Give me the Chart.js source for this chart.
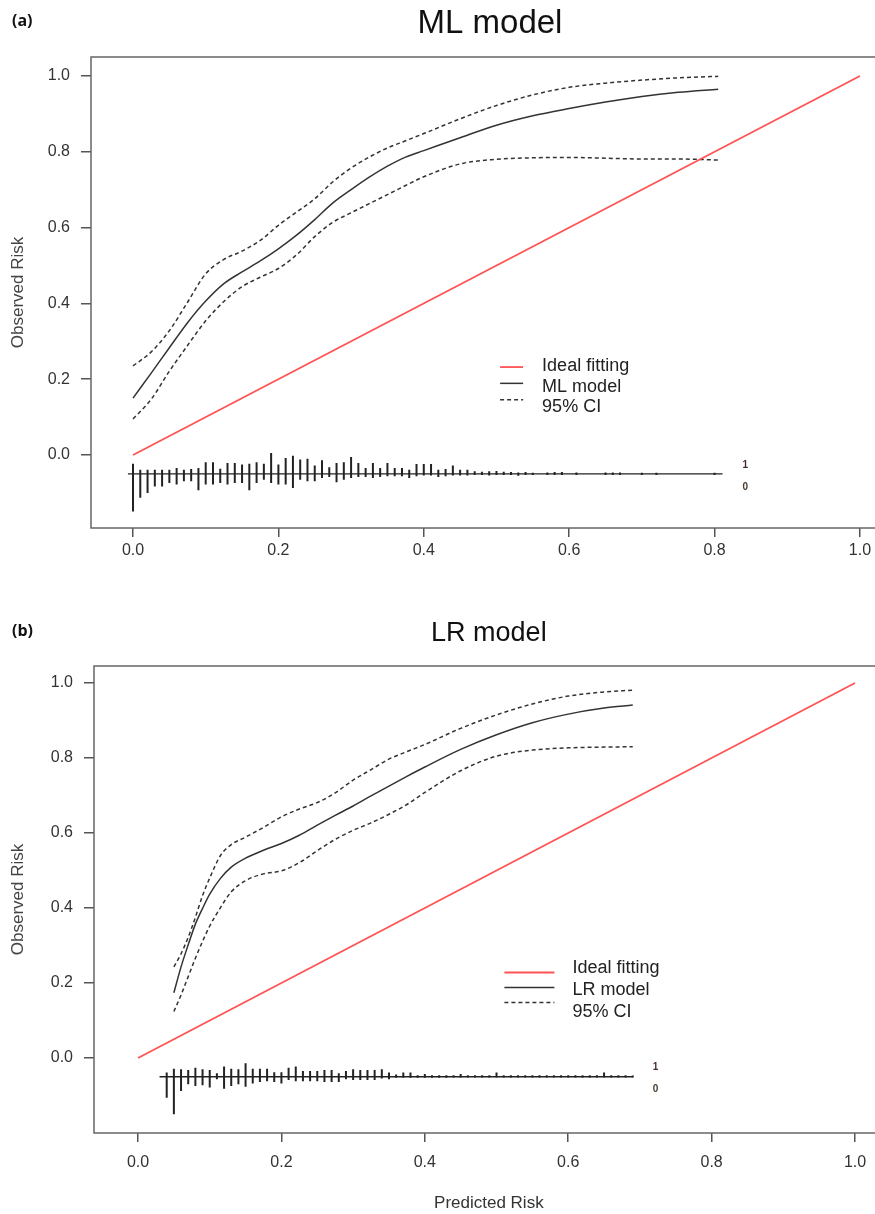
<!DOCTYPE html>
<html>
<head>
<meta charset="utf-8">
<title>Calibration curves - ML vs LR</title>
<script src="https://cdn.jsdelivr.net/npm/chart.js@4.4.0/dist/chart.umd.min.js"></script>
<style>
  html, body { margin: 0; padding: 0; background: #fff; overflow: hidden; }
  body { width: 875px; height: 1214px; position: relative; }
  .panel { position: absolute; left: 0; }
  .tag { position: absolute; left: 12px; z-index: 2; font: bold 16px "Open Sans", sans-serif; color: #111; }
</style>
</head>
<body>
<div class="tag" style="top:9px">(a)</div>
<div class="panel" style="top:0"><canvas id="chartA" width="900" height="600"></canvas></div>
<div class="tag" style="top:619px">(b)</div>
<div class="panel" style="top:600px"><canvas id="chartB" width="900" height="614"></canvas></div>

<script>
// axis ticks
var X_TICKS = [0, 0.2, 0.4, 0.6, 0.8, 1.0];
var Y_TICKS = [0, 0.2, 0.4, 0.6, 0.8, 1.0];

// ideal fitting (diagonal)
var IDEAL_X = [0, 1];
var IDEAL_Y = [0, 1];

// (a) ML model calibration curve + 95% CI
var ML_X     = [0.0, 0.025, 0.05, 0.075, 0.10, 0.125, 0.15, 0.175, 0.20, 0.225, 0.25, 0.275, 0.30, 0.325, 0.35, 0.375, 0.40, 0.45, 0.50, 0.55, 0.60, 0.65, 0.70, 0.75, 0.805];
var ML_FIT   = [0.150, 0.216, 0.283, 0.349, 0.406, 0.452, 0.483, 0.512, 0.544, 0.580, 0.621, 0.665, 0.700, 0.733, 0.762, 0.786, 0.803, 0.837, 0.870, 0.895, 0.914, 0.931, 0.946, 0.957, 0.965];
var ML_UPPER = [0.235, 0.272, 0.328, 0.403, 0.478, 0.516, 0.538, 0.566, 0.606, 0.641, 0.676, 0.721, 0.757, 0.786, 0.810, 0.829, 0.848, 0.887, 0.922, 0.950, 0.970, 0.981, 0.989, 0.995, 0.999];
var ML_LOWER = [0.095, 0.147, 0.221, 0.289, 0.354, 0.405, 0.444, 0.469, 0.492, 0.528, 0.576, 0.614, 0.639, 0.663, 0.687, 0.711, 0.734, 0.768, 0.780, 0.784, 0.785, 0.783, 0.781, 0.781, 0.778];

// (a) spike histogram of predicted risk (up = outcome 1, down = outcome 0)
var ML_SPIKE_X = [0.00, 0.01, 0.02, 0.03, 0.04, 0.05, 0.06, 0.07, 0.08, 0.09,
                  0.10, 0.11, 0.12, 0.13, 0.14, 0.15, 0.16, 0.17, 0.18, 0.19,
                  0.20, 0.21, 0.22, 0.23, 0.24, 0.25, 0.26, 0.27, 0.28, 0.29,
                  0.30, 0.31, 0.32, 0.33, 0.34, 0.35, 0.36, 0.37, 0.38, 0.39,
                  0.40, 0.41, 0.42, 0.43, 0.44, 0.45, 0.46,
                  0.47, 0.48, 0.49, 0.50, 0.51, 0.52, 0.53, 0.54, 0.55, 0.57,
                  0.58, 0.59, 0.61, 0.65, 0.66, 0.67, 0.70, 0.72, 0.80];
var ML_SPIKE_UP = [0.027, 0.011, 0.011, 0.011, 0.011, 0.011, 0.016, 0.011, 0.013, 0.016,
                   0.031, 0.031, 0.014, 0.029, 0.029, 0.025, 0.027, 0.031, 0.027, 0.055,
                   0.025, 0.042, 0.048, 0.038, 0.040, 0.022, 0.036, 0.018, 0.029, 0.031,
                   0.045, 0.029, 0.016, 0.029, 0.016, 0.029, 0.016, 0.016, 0.011, 0.026,
                   0.026, 0.026, 0.011, 0.013, 0.022, 0.011, 0.011,
                   0.007, 0.006, 0.007, 0.008, 0.006, 0.005, 0.004, 0.005, 0.003, 0.004,
                   0.005, 0.005, 0.004, 0.004, 0.004, 0.004, 0.003, 0.003, 0.003];
var ML_SPIKE_DOWN = [0.099, 0.063, 0.050, 0.033, 0.033, 0.024, 0.028, 0.019, 0.019, 0.043,
                     0.028, 0.028, 0.024, 0.028, 0.024, 0.024, 0.043, 0.024, 0.015, 0.024,
                     0.028, 0.028, 0.037, 0.015, 0.019, 0.019, 0.011, 0.008, 0.022, 0.015,
                     0.011, 0.008, 0.008, 0.011, 0.008, 0.006, 0.006, 0.006, 0.011, 0.006,
                     0.004, 0.004, 0.008, 0.006, 0.004, 0.004, 0.004,
                     0.003, 0.003, 0.004, 0.003, 0.003, 0.003, 0.005, 0.003, 0.003, 0.003,
                     0.003, 0.003, 0.003, 0.003, 0.003, 0.003, 0.003, 0.003, 0.003];
var ML_SPIKE_SPAN = [-0.007, 0.811];

// (b) LR model calibration curve + 95% CI
var LR_X     = [0.05, 0.06, 0.07, 0.08, 0.09, 0.10, 0.115, 0.13, 0.15, 0.175, 0.20, 0.225, 0.25, 0.275, 0.30, 0.325, 0.35, 0.375, 0.40, 0.45, 0.50, 0.55, 0.60, 0.65, 0.69];
var LR_FIT   = [0.174, 0.243, 0.302, 0.357, 0.399, 0.437, 0.479, 0.509, 0.533, 0.554, 0.572, 0.594, 0.621, 0.647, 0.672, 0.699, 0.725, 0.751, 0.776, 0.823, 0.862, 0.894, 0.917, 0.933, 0.941];
var LR_UPPER = [0.243, 0.278, 0.322, 0.375, 0.433, 0.480, 0.540, 0.569, 0.589, 0.615, 0.643, 0.664, 0.681, 0.707, 0.741, 0.769, 0.797, 0.817, 0.836, 0.879, 0.915, 0.944, 0.965, 0.976, 0.981];
var LR_LOWER = [0.124, 0.168, 0.217, 0.266, 0.311, 0.352, 0.401, 0.443, 0.473, 0.491, 0.499, 0.521, 0.553, 0.583, 0.607, 0.627, 0.650, 0.676, 0.708, 0.766, 0.805, 0.821, 0.827, 0.829, 0.830];

// (b) spike histogram
var LR_SPIKE_X = [0.04, 0.05, 0.06, 0.07, 0.08, 0.09, 0.10, 0.11, 0.12, 0.13,
                  0.14, 0.15, 0.16, 0.17, 0.18, 0.19, 0.20, 0.21, 0.22, 0.23,
                  0.24, 0.25, 0.26, 0.27, 0.28, 0.29, 0.30, 0.31, 0.32, 0.33,
                  0.34, 0.35, 0.36, 0.37, 0.38, 0.39, 0.40, 0.41, 0.42, 0.43,
                  0.44, 0.45, 0.46, 0.47, 0.48, 0.49, 0.50, 0.51, 0.52, 0.53,
                  0.54, 0.55, 0.56, 0.57, 0.58, 0.59, 0.60, 0.61, 0.62, 0.63,
                  0.64, 0.65, 0.66, 0.67, 0.68, 0.69];
var LR_SPIKE_UP = [0.011, 0.021, 0.020, 0.018, 0.024, 0.020, 0.018, 0.009, 0.027, 0.021,
                   0.020, 0.036, 0.021, 0.021, 0.021, 0.012, 0.012, 0.024, 0.027, 0.015,
                   0.015, 0.015, 0.018, 0.018, 0.009, 0.015, 0.020, 0.018, 0.018, 0.018,
                   0.020, 0.011, 0.006, 0.011, 0.011, 0.004, 0.007, 0.004, 0.004, 0.004,
                   0.004, 0.007, 0.004, 0.004, 0.004, 0.004, 0.011, 0.004, 0.004, 0.004,
                   0.004, 0.004, 0.004, 0.004, 0.004, 0.004, 0.004, 0.004, 0.004, 0.004,
                   0.004, 0.011, 0.004, 0.004, 0.004, 0.003];
var LR_SPIKE_DOWN = [0.056, 0.100, 0.038, 0.020, 0.025, 0.023, 0.029, 0.007, 0.032, 0.025,
                     0.020, 0.027, 0.018, 0.014, 0.012, 0.014, 0.018, 0.009, 0.012, 0.012,
                     0.012, 0.012, 0.014, 0.014, 0.014, 0.007, 0.009, 0.009, 0.009, 0.009,
                     0.005, 0.007, 0.003, 0.003, 0.003, 0.003, 0.003, 0.003, 0.003, 0.003,
                     0.002, 0.002, 0.002, 0.002, 0.002, 0.002, 0.002, 0.002, 0.002, 0.002,
                     0.002, 0.002, 0.002, 0.002, 0.002, 0.002, 0.002, 0.002, 0.002, 0.002,
                     0.002, 0.002, 0.002, 0.002, 0.002, 0.002];
var LR_SPIKE_SPAN = [0.030, 0.690];

var SPIKE_BASE = -0.05;

Chart.defaults.font.family = "'Liberation Sans', Arial, sans-serif";
Chart.defaults.color = '#333';

function pts(xs, ys) {
    return xs.map(function (x, i) { return { x: x, y: ys[i] }; });
}

// each spike is a vertical segment, separated from the next by a null point
function spikePts(xs, up, down) {
    var out = [];
    xs.forEach(function (x, i) {
        out.push({ x: x, y: SPIKE_BASE - down[i] });
        out.push({ x: x, y: SPIKE_BASE + up[i] });
        out.push({ x: x, y: null });
    });
    return out;
}

// box around plot region
var framePlugin = {
    id: 'frame',
    afterDraw: function (chart) {
        var a = chart.chartArea, ctx = chart.ctx;
        ctx.save();
        ctx.strokeStyle = '#666';
        ctx.lineWidth = 1.5;
        ctx.strokeRect(a.left, a.top, a.right - a.left, a.bottom - a.top);
        ctx.restore();
    }
};

// R style legend drawn inside the plot
var insideLegend = {
    id: 'insideLegend',
    afterDraw: function (chart, args, opts) {
        var ctx = chart.ctx;
        var x0 = chart.scales.x.getPixelForValue(opts.x);
        var y0 = chart.scales.y.getPixelForValue(opts.y);
        ctx.save();
        opts.items.forEach(function (idx, i) {
            var ds = chart.data.datasets[idx];
            var ly = y0 + i * opts.lineStep;
            ctx.beginPath();
            ctx.strokeStyle = ds.borderColor;
            ctx.lineWidth = ds.borderWidth;
            ctx.setLineDash(ds.borderDash || []);
            ctx.moveTo(x0, ly);
            ctx.lineTo(x0 + opts.lineLen, ly);
            ctx.stroke();
            ctx.setLineDash([]);
            ctx.fillStyle = '#222';
            ctx.font = opts.fontSize + "px 'Liberation Sans', Arial, sans-serif";
            ctx.textBaseline = 'middle';
            ctx.fillText(ds.label, x0 + opts.lineLen + opts.textGap, y0 + opts.textShift + i * opts.textStep);
        });
        ctx.restore();
    }
};

// "1" / "0" markers at the end of the spike baseline
var spikeLabels = {
    id: 'spikeLabels',
    afterDraw: function (chart, args, opts) {
        var ctx = chart.ctx;
        var x = chart.scales.x.getPixelForValue(opts.end) + opts.gap;
        var y = chart.scales.y.getPixelForValue(SPIKE_BASE);
        ctx.save();
        ctx.font = "bold 10px 'Liberation Sans', Arial, sans-serif";
        ctx.textBaseline = 'middle';
        ctx.fillStyle = '#4a2a3a';
        ctx.fillText('1', x, y - 9);
        ctx.fillStyle = '#4a3a2a';
        ctx.fillText('0', x, y + 13);
        ctx.restore();
    }
};

function buildChart(id, cfg) {
    var ctx = document.getElementById(id).getContext('2d');
    return new Chart(ctx, {
        type: 'scatter',
        data: {
            datasets: [
                {
                    label: 'Ideal fitting',
                    data: pts(IDEAL_X, IDEAL_Y),
                    borderColor: 'rgb(255, 82, 82)',
                    borderWidth: 1.8
                },
                {
                    label: cfg.name,
                    data: pts(cfg.xs, cfg.fit),
                    borderColor: '#333',
                    borderWidth: 1.5,
                    cubicInterpolationMode: 'monotone'
                },
                {
                    label: '95% CI',
                    data: pts(cfg.xs, cfg.upper),
                    borderColor: '#333',
                    borderWidth: 1.5,
                    borderDash: [4, 3],
                    cubicInterpolationMode: 'monotone'
                },
                {
                    label: '95% CI lower',
                    data: pts(cfg.xs, cfg.lower),
                    borderColor: '#333',
                    borderWidth: 1.5,
                    borderDash: [4, 3],
                    cubicInterpolationMode: 'monotone'
                },
                {
                    label: 'spike base',
                    data: pts(cfg.spikeSpan, [SPIKE_BASE, SPIKE_BASE]),
                    borderColor: '#222',
                    borderWidth: 1.3
                },
                {
                    label: 'spikes',
                    data: spikePts(cfg.spikeX, cfg.spikeUp, cfg.spikeDown),
                    borderColor: '#222',
                    borderWidth: 2,
                    spanGaps: false
                }
            ]
        },
        options: {
            responsive: false,
            animation: false,
            showLine: true,
            elements: { point: { radius: 0, hoverRadius: 0 }, line: { fill: false, tension: 0 } },
            layout: { padding: { left: 0, right: cfg.padRight, top: 0, bottom: 0 } },
            plugins: {
                legend: { display: false },
                tooltip: { enabled: false },
                title: {
                    display: true,
                    text: cfg.name,
                    fullSize: false,
                    color: '#111',
                    font: { size: cfg.titleSize, weight: 'normal' },
                    padding: cfg.titlePad
                },
                insideLegend: cfg.legend,
                spikeLabels: { end: cfg.spikeSpan[1], gap: 20 }
            },
            scales: {
                x: {
                    type: 'linear',
                    min: cfg.xMin,
                    max: 1.04,
                    border: { display: false },
                    grid: { drawOnChartArea: false, drawTicks: true, tickLength: 9, color: '#555', lineWidth: 1.5 },
                    ticks: {
                        padding: cfg.xTickPad,
                        color: '#333',
                        font: { size: 16 },
                        callback: function (v) { return v.toFixed(1); }
                    },
                    title: {
                        display: cfg.xTitle,
                        text: 'Predicted Risk',
                        color: '#333',
                        font: { size: 17 },
                        padding: { top: 0, bottom: 0 }
                    },
                    afterBuildTicks: function (s) { s.ticks = X_TICKS.map(function (v) { return { value: v }; }); },
                    afterFit: function (s) { s.height = cfg.xAxisHeight; }
                },
                y: {
                    type: 'linear',
                    min: cfg.yMin,
                    max: cfg.yMax,
                    border: { display: false },
                    grid: { drawOnChartArea: false, drawTicks: true, tickLength: 10, color: '#555', lineWidth: 1.5 },
                    ticks: {
                        padding: 11,
                        color: '#333',
                        font: { size: 16 },
                        callback: function (v) { return v.toFixed(1); }
                    },
                    title: {
                        display: true,
                        text: 'Observed Risk',
                        color: '#444',
                        font: { size: 17 },
                        padding: { top: 8, bottom: 0 }
                    },
                    afterBuildTicks: function (s) { s.ticks = Y_TICKS.map(function (v) { return { value: v }; }); },
                    afterFit: function (s) { s.width = cfg.yAxisWidth; }
                }
            }
        },
        plugins: [framePlugin, insideLegend, spikeLabels]
    });
}

buildChart('chartA', {
    name: 'ML model',
    xs: ML_X, fit: ML_FIT, upper: ML_UPPER, lower: ML_LOWER,
    spikeX: ML_SPIKE_X, spikeUp: ML_SPIKE_UP, spikeDown: ML_SPIKE_DOWN, spikeSpan: ML_SPIKE_SPAN,
    xMin: -0.0578, yMin: -0.1926, yMax: 1.050,
    yAxisWidth: 91, xAxisHeight: 72, padRight: 11,
    titleSize: 33, titlePad: { top: 4, bottom: 13.4 },
    xTickPad: 4, xTitle: false,
    legend: { x: 0.505, y: 0.232, items: [0, 1, 2], lineLen: 23, lineStep: 16.3, textGap: 19, textShift: -1, textStep: 20.5, fontSize: 18 }
});

buildChart('chartB', {
    name: 'LR model',
    xs: LR_X, fit: LR_FIT, upper: LR_UPPER, lower: LR_LOWER,
    spikeX: LR_SPIKE_X, spikeUp: LR_SPIKE_UP, spikeDown: LR_SPIKE_DOWN, spikeSpan: LR_SPIKE_SPAN,
    xMin: -0.0614, yMin: -0.200, yMax: 1.0453,
    yAxisWidth: 94, xAxisHeight: 81, padRight: 16.3,
    titleSize: 27, titlePad: { top: 17, bottom: 16.6 },
    xTickPad: 11, xTitle: true,
    legend: { x: 0.511, y: 0.228, items: [0, 1, 2], lineLen: 50, lineStep: 15, textGap: 18, textShift: -4, textStep: 21.9, fontSize: 18 }
});
</script>
</body>
</html>
